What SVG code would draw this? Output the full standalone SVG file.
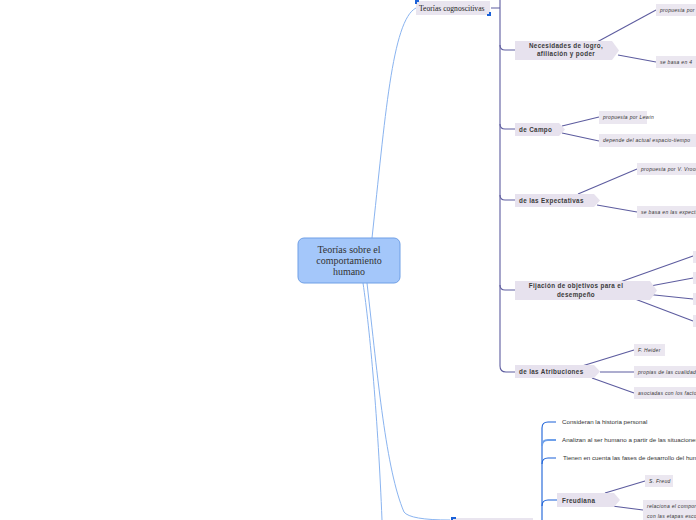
<svg xmlns="http://www.w3.org/2000/svg" width="696" height="520" viewBox="0 0 696 520">
<style>
.bg{fill:#ffffff}
.conn{fill:none;stroke:#5d5c9f;stroke-width:1.1}
.blue{fill:none;stroke:#1b61d8;stroke-width:1.1}
.root{fill:none;stroke:#8ab4f0;stroke-width:1}
.sub{fill:#e7e2ee}
.leaf{fill:#ebe7f0}
.st{font-family:"Liberation Sans",Arial,sans-serif;font-weight:bold;font-size:6.3px;fill:#3a3a3a;letter-spacing:0.35px}
.lt{font-family:"Liberation Sans",Arial,sans-serif;font-style:italic;font-size:5px;fill:#333;letter-spacing:0.3px}
.bt{font-family:"Liberation Sans",Arial,sans-serif;font-size:6.2px;fill:#333}
.ct{font-family:"Liberation Serif","Times New Roman",serif;font-size:10px;fill:#333;text-anchor:middle}
.cog{font-family:"Liberation Serif","Times New Roman",serif;font-size:7.6px;fill:#222}
.brk{fill:none;stroke:#1b61d8;stroke-width:2}
</style>
<rect class="bg" width="696" height="520"/>
<g id="connectors">
  <path class="root" d="M372,238 C385,120 392,20 416,8"/>
  <path class="root" d="M363,283 C370,330 378,420 382,520"/>
  <path class="root" d="M367,283 C378,380 386,470 404,512 Q410,520 450,520"/>
  <path class="conn" d="M491,8 H500 M500,0 V366 Q500,372 506,372 H515"/>
  <path class="conn" d="M500,45 Q500,50 505,50 H515"/>
  <path class="conn" d="M500,124 Q500,129 505,129 H515"/>
  <path class="conn" d="M500,195 Q500,200 505,200 H515"/>
  <path class="conn" d="M500,285 Q500,290 505,290 H515"/>
  <path class="conn" d="M597,42 L656,10"/>
  <path class="conn" d="M618,55 L656,62"/>
  <path class="conn" d="M562,126 L599,117"/>
  <path class="conn" d="M562,133 L599,141"/>
  <path class="conn" d="M578,194 L637,169"/>
  <path class="conn" d="M597,205 L637,212"/>
  <path class="conn" d="M620,282 L693,256"/>
  <path class="conn" d="M645,287 L693,278"/>
  <path class="conn" d="M645,294 L693,299"/>
  <path class="conn" d="M635,299 L693,321"/>
  <path class="conn" d="M582,366 L634,350"/>
  <path class="conn" d="M600,372 L634,372"/>
  <path class="conn" d="M592,378 L634,393"/>
  <path class="blue" d="M542,520 V428 Q542,422 548,422 H556"/>
  <path class="blue" d="M542,446 Q542,440 548,440 H556" style="stroke:#6ea0ea;stroke-width:1.8"/>
  <path class="blue" d="M542,464 Q542,458 548,458 H556"/>
  <path class="blue" d="M542,506 Q542,500 548,500 H557"/>
  <path class="conn" d="M605,493 L645,481"/>
  <path class="conn" d="M612,506 L643,510"/>
</g>
<g id="center">
  <rect x="298" y="238" width="102" height="45" rx="6" fill="#a4c7fa" stroke="#6f9fe6" stroke-width="1"/>
  <text class="ct" x="349" y="253">Teorías sobre el</text>
  <text class="ct" x="349" y="264">comportamiento</text>
  <text class="ct" x="349" y="275">humano</text>
</g>
<g id="cognoscitivas">
  <rect x="416" y="1" width="74" height="14" fill="#e9e5ef"/>
  <path class="brk" d="M416,4 V1 H419"/>
  <path class="brk" d="M490,12 V15 H487"/>
  <text class="cog" x="419" y="11">Teorías cognoscitivas</text>
</g>
<g id="necesidades">
  <path class="sub" d="M515,41 H612 L619,50.5 L612,60 H515 Z"/>
  <text class="st" x="566" y="48" text-anchor="middle">Necesidades de logro,</text>
  <text class="st" x="566" y="56" text-anchor="middle">afiliación y poder</text>
</g>
<g id="leaf-nec-1"><rect class="leaf" x="656" y="4" width="45" height="12"/><text class="lt" x="660" y="12">propuesta por</text></g>
<g id="leaf-nec-2"><rect class="leaf" x="656" y="56" width="45" height="12"/><text class="lt" x="660" y="64">se basa en 4</text></g>
<g id="campo">
  <path class="sub" d="M515,123 H559 L565,129.5 L559,136 H515 Z"/>
  <text class="st" x="519" y="132">de Campo</text>
</g>
<g id="leaf-campo-1"><rect class="leaf" x="599" y="111" width="48" height="13"/><text class="lt" x="603" y="119">propuesta por Lewin</text></g>
<g id="leaf-campo-2"><rect class="leaf" x="599" y="134" width="100" height="13"/><text class="lt" x="603" y="142">depende del actual espacio-tiempo</text></g>
<g id="expectativas">
  <path class="sub" d="M515,194 H594 L600,200.5 L594,207 H515 Z"/>
  <text class="st" x="519" y="203">de las Expectativas</text>
</g>
<g id="leaf-exp-1"><rect class="leaf" x="637" y="163" width="62" height="12"/><text class="lt" x="641" y="171">propuesta por V. Vroom</text></g>
<g id="leaf-exp-2"><rect class="leaf" x="637" y="206" width="62" height="12"/><text class="lt" x="641" y="214">se basa en las expectativas</text></g>
<g id="fijacion">
  <path class="sub" d="M515,281 H650 L657,290.5 L650,300 H515 Z"/>
  <text class="st" x="576" y="288" text-anchor="middle">Fijación de objetivos para el</text>
  <text class="st" x="576" y="297" text-anchor="middle">desempeño</text>
</g>
<g id="leaf-fij-1"><rect class="leaf" x="693" y="251" width="6" height="12"/></g>
<g id="leaf-fij-2"><rect class="leaf" x="693" y="272" width="6" height="12"/></g>
<g id="leaf-fij-3"><rect class="leaf" x="693" y="293" width="6" height="12"/></g>
<g id="leaf-fij-4"><rect class="leaf" x="693" y="315" width="6" height="12"/></g>
<g id="atribuciones">
  <path class="sub" d="M515,365 H594 L600,371.5 L594,378 H515 Z"/>
  <text class="st" x="519" y="374">de las Atribuciones</text>
</g>
<g id="leaf-atr-1"><rect class="leaf" x="634" y="344" width="31" height="12"/><text class="lt" x="638" y="352">F. Heider</text></g>
<g id="leaf-atr-2"><rect class="leaf" x="634" y="366" width="65" height="12"/><text class="lt" x="638" y="374">propias de las cualidades</text></g>
<g id="leaf-atr-3"><rect class="leaf" x="634" y="387" width="65" height="12"/><text class="lt" x="638" y="395">asociadas con los factores</text></g>
<g id="psico-items">
  <text class="bt" x="562" y="424">Consideran la historia personal</text>
  <text class="bt" x="562" y="442">Analizan al ser humano a partir de las situaciones</text>
  <text class="bt" x="563" y="460">Tienen en cuenta las fases de desarrollo del humano</text>
</g>
<g id="freudiana">
  <path class="sub" d="M557,493 H614 L620,500 L614,507 H557 Z"/>
  <text class="st" x="562" y="503">Freudiana</text>
</g>
<g id="leaf-freud-1"><rect class="leaf" x="645" y="475" width="28" height="12"/><text class="lt" x="649" y="483">S. Freud</text></g>
<g id="leaf-freud-2"><rect class="leaf" x="643" y="500" width="56" height="22"/><text class="lt" x="647" y="508">relaciona el comportamiento</text><text class="lt" x="647" y="518">con las etapas escolares</text></g>
<g id="psicoanaliticas">
  <rect x="453" y="518" width="80" height="4" fill="#e9e5ef"/>
  <path class="brk" d="M452,521 V518 H456"/>
</g>
</svg>
